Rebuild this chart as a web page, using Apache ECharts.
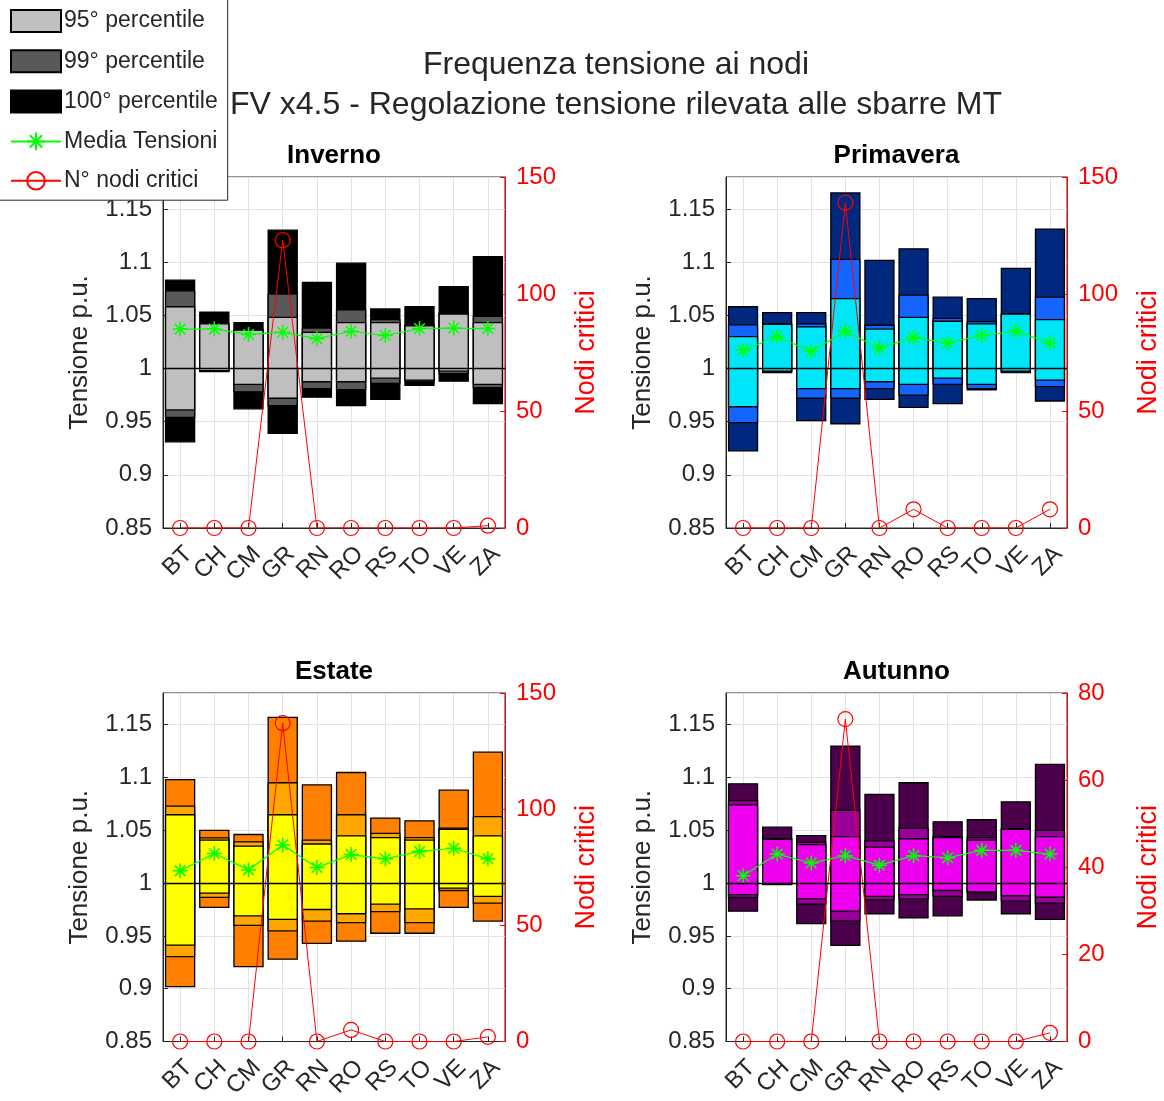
<!DOCTYPE html>
<html><head><meta charset="utf-8">
<script src="https://cdn.jsdelivr.net/npm/echarts@6/dist/echarts.min.js"></script>
<style>html,body{margin:0;padding:0;background:#fff}#c{width:1164px;height:1101px}</style>
</head><body><div id="c"></div>
<script>
// ---------- DATA ----------
const categories = ['BT','CH','CM','GR','RN','RO','RS','TO','VE','ZA'];
const seasonTitles = ['Inverno','Primavera','Estate','Autunno'];
const critTicks = [[0,150,50],[0,150,50],[0,150,50],[0,80,20]];

// Inverno
const inv_min100 = [0.931,0.997,0.962,0.939,0.973,0.965,0.971,0.984,0.988,0.967];
const inv_low99  = [0.954,0.9975,0.978,0.965,0.981,0.980,0.986,0.988,0.995,0.982];
const inv_low95  = [0.961,0.998,0.985,0.972,0.9875,0.9875,0.991,0.989,0.9975,0.985];
const inv_high95 = [1.058,1.042,1.036,1.048,1.034,1.043,1.043,1.040,1.051,1.043];
const inv_high99 = [1.073,1.0425,1.0365,1.070,1.038,1.055,1.046,1.041,1.052,1.049];
const inv_max100 = [1.083,1.053,1.043,1.130,1.081,1.099,1.056,1.058,1.077,1.105];
const inv_mean   = [1.037,1.037,1.032,1.034,1.028,1.035,1.031,1.0375,1.038,1.0375];
const inv_crit   = [0,0,0,123,0,0,0,0,0,1];

// Primavera
const pri_min100 = [0.9225,0.996,0.951,0.948,0.971,0.9635,0.967,0.980,0.996,0.9694];
const pri_low99  = [0.949,0.997,0.972,0.972,0.981,0.975,0.985,0.981,0.9965,0.983];
const pri_low95  = [0.964,0.9975,0.981,0.981,0.9875,0.985,0.991,0.985,0.9975,0.989];
const pri_high95 = [1.030,1.0415,1.039,1.0656,1.037,1.048,1.0444,1.042,1.051,1.046];
const pri_high99 = [1.041,1.042,1.042,1.1025,1.0406,1.069,1.047,1.044,1.0516,1.067];
const pri_max100 = [1.058,1.0525,1.0525,1.165,1.1016,1.1125,1.067,1.0656,1.094,1.131];
const pri_mean   = [1.017,1.030,1.016,1.035,1.019,1.029,1.024,1.031,1.035,1.024];
const pri_crit   = [0,0,0,139,0,8,0,0,0,8];

// Estate
const est_min100 = [0.902,0.977,0.921,0.928,0.943,0.945,0.9525,0.9525,0.977,0.964];
const est_low99  = [0.9303,0.9865,0.960,0.9547,0.964,0.9625,0.973,0.9625,0.993,0.981];
const est_low95  = [0.9413,0.9906,0.969,0.9656,0.975,0.971,0.980,0.9756,0.9953,0.9875];
const est_high95 = [1.0647,1.0406,1.035,1.0647,1.037,1.0447,1.043,1.0406,1.051,1.0447];
const est_high99 = [1.0728,1.0428,1.039,1.095,1.0406,1.0647,1.047,1.043,1.052,1.063];
const est_max100 = [1.098,1.050,1.046,1.157,1.093,1.1047,1.0616,1.059,1.088,1.124];
const est_mean   = [1.0116,1.028,1.0125,1.036,1.0147,1.027,1.023,1.030,1.033,1.023];
const est_crit   = [0,0,0,137,0,5,0,0,0,2];

// Autunno
const aut_min100 = [0.9734,0.9985,0.9616,0.941,0.971,0.967,0.969,0.984,0.971,0.9656];
const aut_low99  = [0.9865,0.999,0.980,0.964,0.984,0.985,0.9875,0.991,0.983,0.981];
const aut_low95  = [0.989,0.9995,0.985,0.9734,0.9875,0.989,0.993,0.9916,0.988,0.9866];
const aut_high95 = [1.074,1.0415,1.0365,1.044,1.034,1.042,1.043,1.0406,1.051,1.044];
const aut_high99 = [1.078,1.042,1.0385,1.069,1.040,1.052,1.044,1.043,1.0516,1.050];
const aut_max100 = [1.094,1.053,1.045,1.1297,1.084,1.095,1.058,1.060,1.077,1.1125];
const aut_mean   = [1.007,1.0275,1.019,1.026,1.017,1.026,1.024,1.031,1.031,1.0275];
const aut_crit   = [0,0,0,74,0,0,0,0,0,2];

// ---------- STYLE / LAYOUT ----------
const palettes = [
  ['#000000','#595959','#BFBFBF'],
  ['#00287F','#1464FF','#00E5F8'],
  ['#FF8000','#FFA600','#FFFF00'],
  ['#4C004C','#990099','#EE00EE']
];
const grids = [
  {left:163, top:177, width:342, height:351},
  {left:726, top:177, width:341, height:351},
  {left:163, top:693, width:342, height:350},
  {left:726, top:693, width:341, height:350}
];
const seasons = [
  [inv_min100,inv_low99,inv_low95,inv_high95,inv_high99,inv_max100,inv_mean,inv_crit],
  [pri_min100,pri_low99,pri_low95,pri_high95,pri_high99,pri_max100,pri_mean,pri_crit],
  [est_min100,est_low99,est_low95,est_high95,est_high99,est_max100,est_mean,est_crit],
  [aut_min100,aut_low99,aut_low95,aut_high95,aut_high99,aut_max100,aut_mean,aut_crit]
];
const FONT = '"Liberation Sans", Arial, Helvetica, sans-serif';
const TXT = '#262626';
const GRIDC = '#e2e2e2';
const ASTER = 'path://M5,0L5,10M0,5L10,5M1.5,1.5L8.5,8.5M8.5,1.5L1.5,8.5';

function barRenderer(fill){
  return function(params, api){
    const i = api.value(0);
    const top = api.coord([i, api.value(2)]);
    const bot = api.coord([i, api.value(1)]);
    const w = api.size([1, 0])[0] * 0.85;
    return {type:'rect', shape:{x: top[0]-w/2, y: top[1], width: w, height: bot[1]-top[1]},
      style:{fill: fill, stroke:'#000', lineWidth:1.3}};
  };
}

const option = {
  animation:false,
  backgroundColor:'#fff',
  textStyle:{fontFamily:FONT},
  title:[],
  legend:{
    orient:'vertical', left:-2, top:-2, z:20,
    padding:[11,10,8,12], itemWidth:50, itemHeight:22, itemGap:16.3,
    backgroundColor:'#fff', borderColor:'#262626', borderWidth:1, borderRadius:0,
    selectedMode:false,
    textStyle:{fontSize:23, color:TXT, fontFamily:FONT, padding:[0,0,0,-2]},
    data:[
      {name:'95° percentile', icon:'rect'},
      {name:'99° percentile', icon:'rect'},
      {name:'100° percentile', icon:'rect'},
      {name:'Media Tensioni'},
      {name:'N° nodi critici'}
    ]
  },
  grid:[], xAxis:[], yAxis:[], series:[]
};

option.title.push({
  text:'Frequenza tensione ai nodi\nFV x4.5 - Regolazione tensione rilevata alle sbarre MT',
  left:611, top:40, textAlign:'center',
  textStyle:{fontSize:32, fontWeight:'normal', color:TXT, lineHeight:40, fontFamily:FONT}
});

seasons.forEach((s, k) => {
  const g = grids[k];
  const [mn, l99, l95, h95, h99, mx, mean, crit] = s;
  const pal = palettes[k];
  option.title.push({
    text: seasonTitles[k], left: g.left + g.width/2 - 5, top: g.top - 39, textAlign:'center',
    textStyle:{fontSize:26, fontWeight:'bold', color:'#000', fontFamily:FONT}
  });
  option.grid.push(Object.assign({show:true, borderColor:'#262626', borderWidth:1, containLabel:false}, g));
  option.xAxis.push({
    type:'category', gridIndex:k, data:categories,
    axisLine:{lineStyle:{color:'#262626', width:1}},
    axisTick:{show:true, inside:true, length:5, alignWithLabel:true, interval:0, lineStyle:{color:'#262626'}},
    axisLabel:{rotate:45, interval:0, fontSize:24, color:TXT, margin:14, verticalAlign:'top', fontFamily:FONT},
    splitLine:{show:true, interval:0, alignWithLabel:true, lineStyle:{color:GRIDC, width:1}}
  });
  option.yAxis.push({
    type:'value', gridIndex:k, position:'left', min:0.85, max:1.18, interval:0.05,
    axisLine:{show:true, lineStyle:{color:'#262626', width:1}},
    axisTick:{show:true, inside:true, length:5, lineStyle:{color:'#262626'}},
    axisLabel:{fontSize:24, color:TXT, margin:11, showMaxLabel:false, fontFamily:FONT},
    splitLine:{show:true, lineStyle:{color:GRIDC, width:1}},
    name:'Tensione p.u.', nameLocation:'middle', nameRotate:90, nameGap:70,
    nameTextStyle:{fontSize:26, color:TXT, fontFamily:FONT}
  });
  const ct = critTicks[k];
  option.yAxis.push({
    type:'value', gridIndex:k, position:'right', min:ct[0], max:ct[1], interval:ct[2],
    axisLine:{show:true, lineStyle:{color:'#ff0000', width:1}},
    axisTick:{show:true, inside:true, length:5, lineStyle:{color:'#ff0000'}},
    axisLabel:{fontSize:24, color:'#ff0000', margin:11, fontFamily:FONT},
    splitLine:{show:false},
    name:'Nodi critici', nameLocation:'middle', nameRotate:90, nameGap:68,
    nameTextStyle:{fontSize:27, color:'#ff0000', fontFamily:FONT}
  });
  const yL = 2*k, yR = 2*k+1;
  const bands = [
    ['100° percentile', mn, mx, pal[0]],
    ['99° percentile', l99, h99, pal[1]],
    ['95° percentile', l95, h95, pal[2]]
  ];
  bands.forEach(b => {
    option.series.push({
      type:'custom', name:b[0], xAxisIndex:k, yAxisIndex:yL,
      renderItem: barRenderer(b[3]),
      itemStyle:{color:b[3], borderColor:'#000', borderWidth:1},
      encode:{x:0, y:[1,2]},
      data: categories.map((c,i) => [i, b[1][i], b[2][i]])
    });
  });
  option.series.push({
    type:'line', name:'N° nodi critici', xAxisIndex:k, yAxisIndex:yR,
    data: crit, symbol:'circle', symbolSize:15,
    lineStyle:{color:'#ff0000', width:1},
    itemStyle:{color:'rgba(255,0,0,0)', borderColor:'#ff0000', borderWidth:1.2},
    z:3
  });
  option.series.push({
    type:'line', name:'Media Tensioni', xAxisIndex:k, yAxisIndex:yL,
    data: mean, symbol:ASTER, symbolSize:15,
    lineStyle:{color:'#00ff00', width:1.2},
    itemStyle:{color:'#00ff00', borderColor:'#00ff00', borderWidth:1.5},
    markLine:{silent:true, symbol:'none', label:{show:false},
      lineStyle:{color:'#000', width:1.3, type:'solid'},
      data:[{yAxis:1}]},
    z:4
  });
});

const chart = echarts.init(document.getElementById('c'), null, {renderer:'canvas'});
chart.setOption(option);
</script>
</body></html>
